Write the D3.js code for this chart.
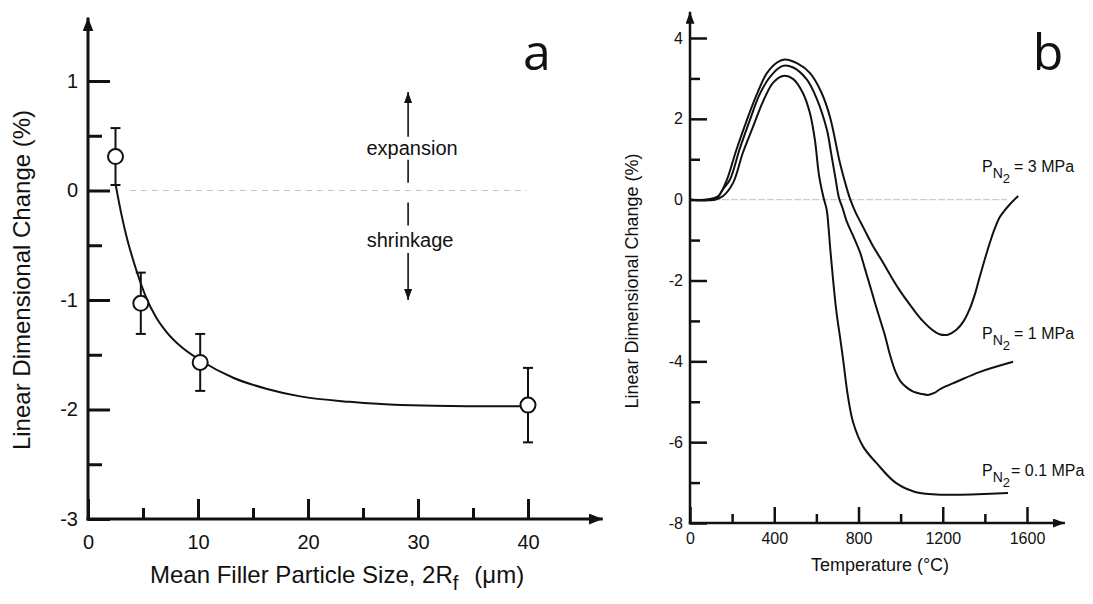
<!doctype html>
<html>
  <head>
    <script src="https://cdn.jsdelivr.net/npm/d3@7/dist/d3.min.js"></script>
    <style>
      body { margin: 0; background: #fff; }
      text { font-family: "Liberation Sans", Arial, sans-serif; fill: #111; }
      .axisline { stroke: #111; }
      .curve { fill: none; stroke: #111; stroke-width: 2; }
    </style>
  </head>
  <body>
    <svg id="chart" width="1093" height="604"></svg>
    <script>
      // panel a: filler particle size vs. linear change
      var sizeA = [2.5, 4.8, 10.2, 40];
      var changeA = [0.31, -1.03, -1.57, -1.96];
      var errA = [0.26, 0.28, 0.26, 0.34];
      var fitSize = [2.5, 3.0, 3.5, 4.0, 4.5, 5.3, 6.2, 7.2, 8.5, 10.2, 13.2, 16.2, 19.3, 23.8, 28.4, 34.5, 40];
      var fitChange = [0.06, -0.2, -0.42, -0.6, -0.76, -0.98, -1.16, -1.3, -1.43, -1.55, -1.71, -1.81, -1.88, -1.93, -1.96, -1.97, -1.97];
      var xTicksA = [0, 10, 20, 30, 40];
      var xMinorA = [5, 15, 25, 35];
      var yTicksA = [-3, -2, -1, 0, 1];
      var yMinorA = [-2.5, -1.5, -0.5, 0.5];

      // panel b: temperature curves for three N2 pressures
      var temp3 = [0, 70, 120, 140, 175, 220, 270, 320, 365, 415, 450, 510, 570, 625, 665, 710, 735, 760, 785, 810, 840, 870, 910, 950, 990, 1030, 1070, 1105, 1145, 1185, 1225, 1265, 1300, 1330, 1355, 1376, 1400, 1424, 1448, 1471, 1495, 1518, 1558];
      var dl3 = [0, 0, 0.05, 0.12, 0.49, 1.23, 1.97, 2.64, 3.13, 3.40, 3.47, 3.37, 3.13, 2.64, 2.04, 0.95, 0.45, 0.02, -0.3, -0.56, -0.86, -1.16, -1.5, -1.86, -2.2, -2.5, -2.78, -3.0, -3.2, -3.33, -3.34, -3.22, -3.0, -2.68, -2.3, -1.9, -1.47, -1.06, -0.7, -0.43, -0.26, -0.12, 0.09];
      var temp1 = [0, 95, 130, 155, 190, 235, 285, 330, 380, 440, 490, 555, 600, 650, 670, 690, 707, 725, 745, 775, 807, 830, 854, 878, 902, 925, 950, 975, 1000, 1030, 1060, 1095, 1130, 1160, 1190, 1268, 1377, 1534];
      var dl1 = [0, 0, 0.05, 0.25, 0.5, 1.24, 1.98, 2.6, 3.04, 3.31, 3.27, 2.97, 2.52, 1.73, 1.15, 0.55, 0.05, -0.22, -0.55, -0.9, -1.3, -1.7, -2.12, -2.55, -2.96, -3.35, -3.85, -4.25, -4.5, -4.65, -4.75, -4.8, -4.83, -4.78, -4.68, -4.5, -4.26, -4.01];
      var temp01 = [0, 119, 157, 204, 251, 299, 346, 394, 441, 489, 536, 569, 593, 612, 633, 649, 656, 665, 672, 684, 696, 712, 727, 750, 775, 822, 886, 981, 1092, 1510];
      var dl01 = [0, 0, 0.09, 0.41, 1.16, 1.80, 2.42, 2.89, 3.06, 2.99, 2.64, 2.15, 1.48, 0.62, 0.07, -0.25, -0.58, -1.16, -1.57, -2.23, -2.81, -3.39, -3.96, -4.87, -5.52, -6.11, -6.52, -7.02, -7.26, -7.26];
      var pressures = ["3 MPa", "1 MPa", "0.1 MPa"];
      var xTicksB = [0, 400, 800, 1200, 1600];
      var xMinorB = [200, 600, 1000, 1400];
      var yTicksB = [-8, -6, -4, -2, 0, 2, 4];
      var yMinorB = [-7, -5, -3, -1, 1, 3];

      var svg = d3.select("#chart");

      var defs = svg.append("defs");
      function addHead(id, w, h) {
        defs.append("marker")
            .attr("id", id)
            .attr("viewBox", `0 0 ${w} ${h}`)
            .attr("refX", w)
            .attr("refY", h / 2)
            .attr("markerUnits", "userSpaceOnUse")
            .attr("markerWidth", w)
            .attr("markerHeight", h)
            .attr("orient", "auto")
          .append("path")
            .attr("d", `M0,0L${w},${h / 2}L0,${h}Z`)
            .attr("fill", "#111");
      }
      addHead("headA", 14, 11);
      addHead("headB", 12, 9);
      addHead("headS", 11, 8);

      function styleAxis(g, width, fontSize) {
        g.select(".domain").remove();
        g.selectAll("line").attr("stroke", "#111").attr("stroke-width", width);
        g.selectAll("text").style("font-size", fontSize + "px").attr("fill", "#111");
      }

      // ---------- panel a ----------
      var xA = d3.scaleLinear().domain([0, 40]).range([88, 528]);
      var yA = d3.scaleLinear().domain([-3, 1]).range([519, 81]);
      var gA = svg.append("g");

      gA.append("line")
          .attr("class", "axisline")
          .attr("x1", xA(0)).attr("x2", xA(0))
          .attr("y1", yA(-3) + 1.5).attr("y2", yA(1.58))
          .attr("stroke-width", 3)
          .attr("marker-end", "url(#headA)");
      gA.append("line")
          .attr("class", "axisline")
          .attr("x1", xA(0) - 1.5).attr("x2", xA(46.8))
          .attr("y1", yA(-3)).attr("y2", yA(-3))
          .attr("stroke-width", 3)
          .attr("marker-end", "url(#headA)");

      gA.append("g")
          .attr("transform", `translate(${xA(0)},0)`)
          .call(d3.axisLeft(yA).tickValues(yTicksA).tickSize(-22).tickPadding(10).tickFormat(d => String(d)))
          .call(g => styleAxis(g, 3, 20));
      gA.append("g")
          .attr("transform", `translate(${xA(0)},0)`)
          .call(d3.axisLeft(yA).tickValues(yMinorA).tickSize(-14).tickFormat(""))
          .call(g => styleAxis(g, 3, 20));
      gA.append("g")
          .attr("transform", `translate(0,${yA(-3)})`)
          .call(d3.axisBottom(xA).tickValues(xTicksA).tickSize(-20).tickPadding(16).tickFormat(d => String(d)))
          .call(g => styleAxis(g, 3, 20));
      gA.append("g")
          .attr("transform", `translate(0,${yA(-3)})`)
          .call(d3.axisBottom(xA).tickValues(xMinorA).tickSize(-11).tickFormat(""))
          .call(g => styleAxis(g, 3, 20));

      // zero reference
      gA.append("line")
          .attr("x1", xA(3.8)).attr("x2", xA(39.9))
          .attr("y1", yA(0)).attr("y2", yA(0))
          .attr("stroke", "#c4c4c4")
          .attr("stroke-width", 1.2)
          .attr("stroke-dasharray", "6,5");

      // expansion / shrinkage arrows
      var arrowX = xA(29.1);
      var segs = [[0.49, 0.9, true], [0.07, 0.28, false], [-0.32, -0.11, false], [-0.57, -1.0, true]];
      segs.forEach(s => {
        gA.append("line")
            .attr("x1", arrowX).attr("x2", arrowX)
            .attr("y1", yA(s[0])).attr("y2", yA(s[1]))
            .attr("stroke", "#111")
            .attr("stroke-width", 1.6)
            .attr("marker-end", s[2] ? "url(#headS)" : null);
      });
      gA.append("text")
          .attr("x", arrowX + 4).attr("y", yA(0.385))
          .attr("dy", "0.35em")
          .attr("text-anchor", "middle")
          .style("font-size", "20px")
          .text("expansion");
      gA.append("text")
          .attr("x", arrowX + 2).attr("y", yA(-0.455))
          .attr("dy", "0.35em")
          .attr("text-anchor", "middle")
          .style("font-size", "20px")
          .text("shrinkage");

      // fitted curve
      var fitLine = d3.line()
          .x((d, i) => xA(fitSize[i]))
          .y(d => yA(d))
          .curve(d3.curveMonotoneX);
      gA.append("path")
          .attr("class", "curve")
          .attr("d", fitLine(fitChange));

      // error bars and points
      var pts = gA.selectAll("g.pt")
        .data(sizeA.map((s, i) => ({x: s, y: changeA[i], e: errA[i]})))
        .enter()
        .append("g")
          .attr("class", "pt");
      pts.append("line")
          .attr("x1", d => xA(d.x)).attr("x2", d => xA(d.x))
          .attr("y1", d => yA(d.y + d.e)).attr("y2", d => yA(d.y - d.e))
          .attr("stroke", "#111").attr("stroke-width", 2);
      pts.selectAll("line.cap")
        .data(d => [[d.x, d.y + d.e], [d.x, d.y - d.e]])
        .enter()
        .append("line")
          .attr("class", "cap")
          .attr("x1", d => xA(d[0]) - 5).attr("x2", d => xA(d[0]) + 5)
          .attr("y1", d => yA(d[1])).attr("y2", d => yA(d[1]))
          .attr("stroke", "#111").attr("stroke-width", 2);
      pts.append("circle")
          .attr("cx", d => xA(d.x))
          .attr("cy", d => yA(d.y))
          .attr("r", 7.5)
          .attr("fill", "#fff")
          .attr("stroke", "#111")
          .attr("stroke-width", 2);

      // titles
      gA.append("text")
          .attr("transform", `translate(30,280) rotate(-90)`)
          .attr("text-anchor", "middle")
          .style("font-size", "24px")
          .text("Linear Dimensional Change (%)");
      var xt = gA.append("text")
          .attr("x", 150).attr("y", 583)
          .style("font-size", "24px");
      xt.append("tspan").text("Mean Filler Particle Size, 2R");
      xt.append("tspan").attr("dy", 7).style("font-size", "20px").text("f");
      xt.append("tspan").attr("dy", -7).attr("dx", 16).text("(\u03bcm)");

      gA.append("text")
          .attr("x", 537).attr("y", 70)
          .attr("text-anchor", "middle")
          .style("font-family", "'Open Sans', sans-serif")
          .style("font-size", "50px")
          .text("a");

      // ---------- panel b ----------
      var xB = d3.scaleLinear().domain([0, 1600]).range([690, 1027]);
      var yB = d3.scaleLinear().domain([-8, 4]).range([523, 38]);
      var gB = svg.append("g");

      gB.append("line")
          .attr("class", "axisline")
          .attr("x1", xB(0)).attr("x2", xB(0))
          .attr("y1", yB(-8) + 1.2).attr("y2", yB(4.65))
          .attr("stroke-width", 2.5)
          .attr("marker-end", "url(#headB)");
      gB.append("line")
          .attr("class", "axisline")
          .attr("x1", xB(0) - 1.2).attr("x2", xB(1780))
          .attr("y1", yB(-8)).attr("y2", yB(-8))
          .attr("stroke-width", 2.5)
          .attr("marker-end", "url(#headB)");

      gB.append("g")
          .attr("transform", `translate(${xB(0)},0)`)
          .call(d3.axisLeft(yB).tickValues(yTicksB).tickSize(-17).tickPadding(7).tickFormat(d => String(d)))
          .call(g => styleAxis(g, 2.5, 16));
      gB.append("g")
          .attr("transform", `translate(${xB(0)},0)`)
          .call(d3.axisLeft(yB).tickValues(yMinorB).tickSize(-10).tickFormat(""))
          .call(g => styleAxis(g, 2.5, 16));
      gB.append("g")
          .attr("transform", `translate(0,${yB(-8)})`)
          .call(d3.axisBottom(xB).tickValues(xTicksB).tickSize(-16).tickPadding(10).tickFormat(d => String(d)))
          .call(g => styleAxis(g, 2.5, 16));
      gB.append("g")
          .attr("transform", `translate(0,${yB(-8)})`)
          .call(d3.axisBottom(xB).tickValues(xMinorB).tickSize(-9).tickFormat(""))
          .call(g => styleAxis(g, 2.5, 16));

      gB.append("line")
          .attr("x1", xB(110)).attr("x2", xB(1505))
          .attr("y1", yB(0)).attr("y2", yB(0))
          .attr("stroke", "#cccccc")
          .attr("stroke-width", 1.2)
          .attr("stroke-dasharray", "7,2");

      var seriesB = [
        {name: pressures[0], t: temp3, v: dl3},
        {name: pressures[1], t: temp1, v: dl1},
        {name: pressures[2], t: temp01, v: dl01}
      ];
      var lineB = d3.line()
          .x(d => xB(d[0]))
          .y(d => yB(d[1]))
          .curve(d3.curveCatmullRom.alpha(0.5));
      gB.selectAll("path.series")
        .data(seriesB)
        .enter()
        .append("path")
          .attr("class", "curve series")
          .attr("d", s => lineB(s.t.map((t, i) => [t, s.v[i]])));

      // pressure labels
      var labelY = [172, 339, 476];
      pressures.forEach((p, i) => {
        var t = gB.append("text")
            .attr("x", 982).attr("y", labelY[i])
            .style("font-size", "16px");
        t.append("tspan").text("P");
        t.append("tspan").attr("dy", 6).style("font-size", "14px").text("N");
        t.append("tspan").attr("dy", 5).style("font-size", "13px").text("2");
        t.append("tspan").attr("dy", -11).attr("dx", i === 2 ? 1 : 4).text("= " + p);
      });

      gB.append("text")
          .attr("transform", `translate(638,281) rotate(-90)`)
          .attr("text-anchor", "middle")
          .style("font-size", "18px")
          .text("Linear Dimensional Change (%)");
      gB.append("text")
          .attr("x", 880).attr("y", 571)
          .attr("text-anchor", "middle")
          .style("font-size", "18px")
          .text("Temperature (\u00b0C)");

      gB.append("text")
          .attr("x", 1048).attr("y", 70)
          .attr("text-anchor", "middle")
          .style("font-family", "'Open Sans', sans-serif")
          .style("font-size", "50px")
          .text("b");
    </script>
  </body>
</html>
